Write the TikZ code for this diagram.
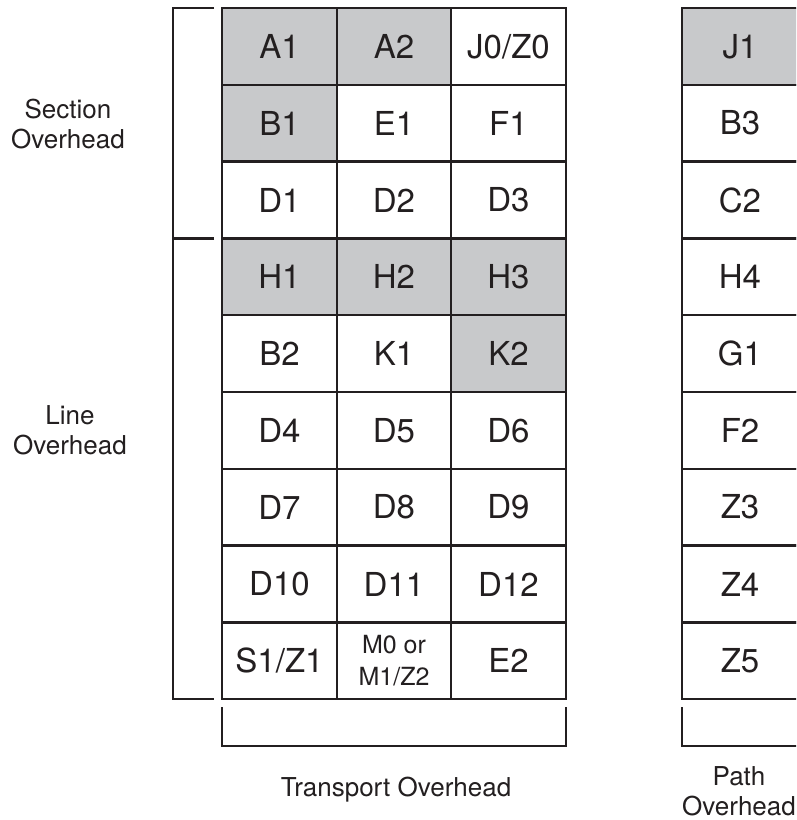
\documentclass[tikz,border=0pt]{standalone}
\usepackage{fontspec}
\setmainfont{TeX Gyre Heros}
\usepackage{xcolor}
\definecolor{inkline}{HTML}{231F20}
\definecolor{cellgrey}{HTML}{C8C9CB}
\tikzset{
  cell/.style    ={rectangle, draw=inkline, fill=white, line width=2.4pt,
                   minimum width=114.5pt, minimum height=76.8pt, inner sep=0pt,
                   outer sep=0pt, align=center, text=inkline,
                   font=\fontsize{33}{38}\selectfont},
  gcell/.style   ={cell, fill=cellgrey},
  pcell/.style   ={cell, minimum width=116pt},
  gpcell/.style  ={pcell, fill=cellgrey},
  small/.style   ={font=\fontsize{25}{32}\selectfont},
  brace/.style   ={draw=inkline, line width=2.4pt},
  caption/.style ={align=center, text=inkline, inner sep=0pt,
                   font=\fontsize{26}{30}\selectfont},
}

\begin{document}
\begin{tikzpicture}[x=1pt, y=-1pt]
\useasboundingbox (0,0) rectangle (796,820);
\clip (0,0) rectangle (796,820);

% ---------------- transport overhead: section ----------------
\node[gcell] (a1) at (279.5, 46.4) {A1};
\node[gcell] (a2) at (394.0, 46.4) {A2};
\node[cell]  (j0) at (508.5, 46.4) {J0/Z0};
\node[gcell] (b1) at (279.5,123.2) {B1};
\node[cell]  (e1) at (394.0,123.2) {E1};
\node[cell]  (f1) at (508.5,123.2) {F1};
\node[cell]  (d1) at (279.5,200.0) {D1};
\node[cell]  (d2) at (394.0,200.0) {D2};
\node[cell]  (d3) at (508.5,200.0) {D3};

% ---------------- transport overhead: line ----------------
\node[gcell] (h1)  at (279.5,276.8) {H1};
\node[gcell] (h2)  at (394.0,276.8) {H2};
\node[gcell] (h3)  at (508.5,276.8) {H3};
\node[cell]  (b2)  at (279.5,353.6) {B2};
\node[cell]  (k1)  at (394.0,353.6) {K1};
\node[gcell] (k2)  at (508.5,353.6) {K2};
\node[cell]  (d4)  at (279.5,430.4) {D4};
\node[cell]  (d5)  at (394.0,430.4) {D5};
\node[cell]  (d6)  at (508.5,430.4) {D6};
\node[cell]  (d7)  at (279.5,507.2) {D7};
\node[cell]  (d8)  at (394.0,507.2) {D8};
\node[cell]  (d9)  at (508.5,507.2) {D9};
\node[cell]  (d10) at (279.5,584.0) {D10};
\node[cell]  (d11) at (394.0,584.0) {D11};
\node[cell]  (d12) at (508.5,584.0) {D12};
\node[cell]  (s1)  at (279.5,660.8) {S1/Z1};
\node[cell, small] (m0) at (394.0,660.8) {M0 or\\M1/Z2};
\node[cell]  (e2)  at (508.5,660.8) {E2};

% ---------------- path overhead ----------------
\node[gpcell] (j1) at (740, 46.4) {J1};
\node[pcell]  (b3) at (740,123.2) {B3};
\node[pcell]  (c2) at (740,200.0) {C2};
\node[pcell]  (h4) at (740,276.8) {H4};
\node[pcell]  (g1) at (740,353.6) {G1};
\node[pcell]  (f2) at (740,430.4) {F2};
\node[pcell]  (z3) at (740,507.2) {Z3};
\node[pcell]  (z4) at (740,584.0) {Z4};
\node[pcell]  (z5) at (740,660.8) {Z5};

% ---------------- side brackets ----------------
\coordinate (sectop) at (214,  8.0);
\coordinate (secbot) at (214,238.4);
\coordinate (linbot) at (214,699.2);
\draw[brace] (sectop) -- (173,8.0) -- (173,699.2) -- (linbot);
\draw[brace] (secbot) -- (173,238.4);

% ---------------- bottom brackets ----------------
\coordinate (tohl) at (222.2,707);
\coordinate (tohr) at (565.8,707);
\coordinate (pohl) at (682,707);
\draw[brace] (tohl) -- (222.2,746) -- (565.8,746) -- (tohr);
\draw[brace] (pohl) -- (682,746) -- (800,746);

% ---------------- captions ----------------
\node[caption] (seclbl) at (68,124)  {Section\\Overhead};
\node[caption] (linlbl) at (70,430)  {Line\\Overhead};
\node[caption] (tohlbl) at (396,790) {Transport Overhead};
\node[caption] (pohlbl) at (739,791) {Path\\Overhead};

\end{tikzpicture}
\end{document}
